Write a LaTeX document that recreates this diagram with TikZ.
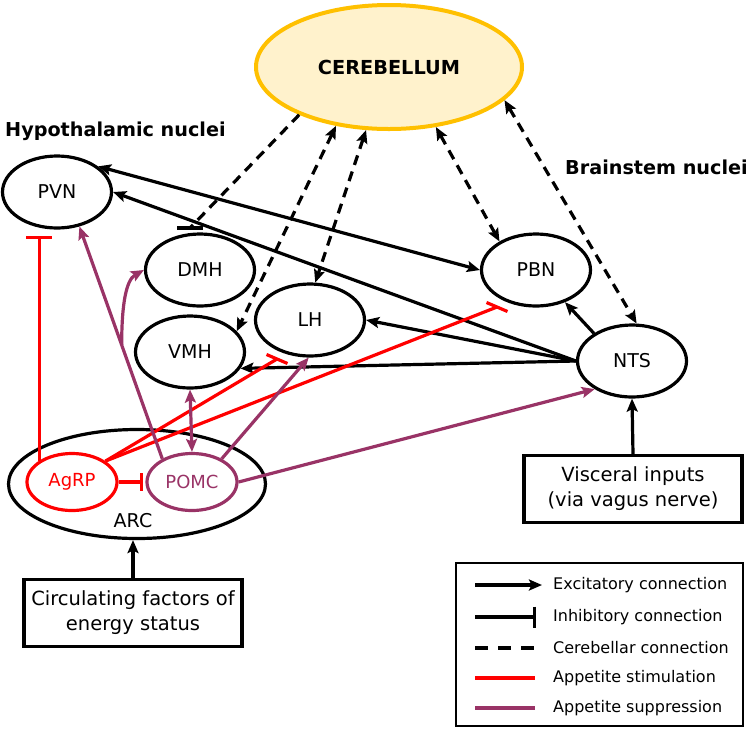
\documentclass[tikz,border=0pt]{standalone}
\usepackage{fontspec}
\setmainfont{DejaVu Sans}
\usetikzlibrary{shapes.geometric,arrows.meta}
\definecolor{supprcol}{RGB}{153,51,102}
\definecolor{cerebfill}{RGB}{255,242,204}
\definecolor{cerebline}{RGB}{255,192,0}

\begin{document}
\begin{tikzpicture}
    [
        x = 1pt, y = -1pt,
        > = {Stealth[length = 13pt, width = 11pt, inset = 2.5pt]},
        nucleus/.style = {draw, ellipse, line width = 3.2pt, minimum width = 109pt, minimum height = 72pt, inner sep = 0pt, font = \fontsize{19}{22}\selectfont},
        cell/.style = {draw, ellipse, line width = 3.2pt, minimum width = 90pt, minimum height = 57pt, inner sep = 0pt, font = \fontsize{18}{21}\selectfont},
        inputbox/.style = {draw, rectangle, line width = 3.2pt, minimum width = 218pt, minimum height = 67pt, align = center, font = \fontsize{19.5}{25}\selectfont},
        heading/.style = {anchor = base west, inner sep = 0pt, font = \fontsize{19.2}{22}\selectfont\bfseries},
        legendtext/.style = {anchor = west, inner sep = 0pt, font = \fontsize{16}{19}\selectfont},
        link/.style = {line width = 3.2pt},
        cerebconn/.style = {link, dash pattern = on 10pt off 7pt},
        stimul/.style = {link, red},
        suppress/.style = {link, supprcol},
        inhibit/.style = {-{Bar[width = #1]}},
        inhibit/.default = 26pt
    ]

    \useasboundingbox (0,0) rectangle (749,729);

    \node[draw = cerebline, fill = cerebfill, ellipse, line width = 4pt, minimum width = 266pt, minimum height = 124pt, font = \fontsize{19.3}{22}\selectfont\bfseries] (cereb) at (389,67) {CEREBELLUM};

    \node[heading] (hypo) at (5,136) {Hypothalamic nuclei};
    \node[heading] (brainstem) at (565,174) {Brainstem nuclei};

    \node[nucleus] (pvn) at (57,192) {PVN};
    \node[nucleus] (dmh) at (200,270) {DMH};
    \node[nucleus] (lh) at (310,320) {LH};
    \node[nucleus] (vmh) at (190,352) {VMH};
    \node[nucleus] (pbn) at (536,270) {PBN};
    \node[nucleus] (nts) at (632,361) {NTS};

    \node[draw, ellipse, line width = 3.2pt, minimum width = 257pt, minimum height = 109pt] (arc) at (137,484) {};
    \node[cell, draw = red, text = red] (agrp) at (72,482) {AgRP};
    \node[cell, draw = supprcol, text = supprcol] (pomc) at (192,482) {POMC};
    \node[font = \fontsize{19}{22}\selectfont] (arclabel) at (133,521) {ARC};

    \node[inputbox] (circ) at (133,613) {Circulating factors of\\energy status};
    \node[inputbox] (visc) at (633,489) {Visceral inputs\\(via vagus nerve)};

    \coordinate (dmhbar) at (190,228);
    \coordinate (lhbar) at (277,359);
    \coordinate (pbnbar) at (497,307);

    \draw[cerebconn] (cereb.208) -- (dmhbar);
    \draw[link] ([xshift = -13pt]dmhbar) -- ([xshift = 13pt]dmhbar);
    \draw[cerebconn, <->] (cereb.228) -- (vmh.24);
    \draw[cerebconn, <->] (cereb.250) -- (lh.82);
    \draw[cerebconn, <->] (cereb.-52) -- (pbn.142);
    \draw[cerebconn, <->] (cereb.-16) -- (nts.83);

    \draw[link, <->] (pvn.32) -- (pbn.west);
    \draw[link, ->] (nts.west) -- (pvn.east);
    \draw[link, ->] (nts.west) -- (lh.east);
    \draw[link, ->] (nts.west) -- (vmh.-18);
    \draw[link, ->] (nts.144) -- (pbn.-48);
    \draw[link, ->] (visc.north) -- (nts.south);
    \draw[link, ->] (circ.north) -- (circ.north |- arc.south);

    \draw[stimul, inhibit, shorten >= 6pt] (agrp.147) -- (agrp.147 |- pvn.south);
    \draw[stimul] (agrp.32) -- (lhbar);
    \draw[stimul] (lhbar) +(-10.5,-4.5) -- +(10.5,4.5);
    \draw[stimul] (agrp.32) -- (pbnbar);
    \draw[stimul] (pbnbar) +(-10.5,-4.5) -- +(10.5,4.5);
    \draw[stimul, inhibit = 18pt, shorten >= 2pt] (agrp) -- (pomc);

    \draw[suppress, ->] (pomc.142) -- coordinate[pos = 0.49] (fork) (pvn.-57);
    \draw[suppress, ->] (fork) .. controls +(0,-40) and +(-18,10) .. (dmh.west);
    \draw[suppress, <->] (pomc.north) -- (vmh.south);
    \draw[suppress, ->] (pomc.38) -- (lh.-92);
    \draw[suppress, ->] (pomc.east) -- (nts.217);

    \node[draw, line width = 2pt, minimum width = 287pt, minimum height = 163pt] (legend) at (599.5,644.5) {};
    \node[legendtext] (lexc) at (553,585) {Excitatory connection};
    \node[legendtext] (linh) at (553,617) {Inhibitory connection};
    \node[legendtext] (lcer) at (553,648) {Cerebellar connection};
    \node[legendtext] (lsti) at (553,678) {Appetite stimulation};
    \node[legendtext] (lsup) at (553,708) {Appetite suppression};
    \draw[link, ->] ([xshift = -78pt]lexc.west) -- ([xshift = -11pt]lexc.west);
    \draw[link, inhibit = 21pt] ([xshift = -78pt]linh.west) -- ([xshift = -17pt]linh.west);
    \draw[cerebconn, dash pattern = on 13pt off 10pt] ([xshift = -78pt]lcer.west) -- ([xshift = -18pt]lcer.west);
    \draw[stimul] ([xshift = -78pt]lsti.west) -- ([xshift = -18pt]lsti.west);
    \draw[suppress] ([xshift = -78pt]lsup.west) -- ([xshift = -18pt]lsup.west);
\end{tikzpicture}
\end{document}
